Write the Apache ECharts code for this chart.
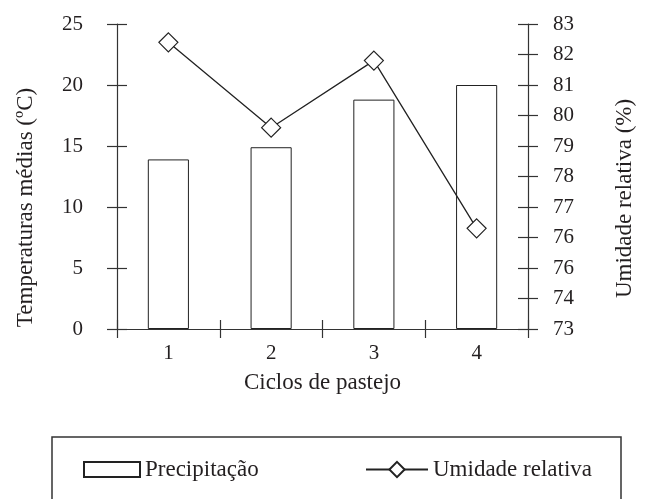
<!DOCTYPE html>
<html>
<head>
<meta charset="utf-8">
<script src="https://cdn.jsdelivr.net/npm/echarts@6/dist/echarts.min.js"></script>
<style>
  html, body { margin: 0; padding: 0; background: #fff; }
  #chart { width: 646px; height: 499px; }
</style>
</head>
<body>
<div id="chart"></div>
<script>
// ciclos de pastejo (eixo x)
const ciclos = ['1', '2', '3', '4']
// barras - eixo esquerdo
const precipitacao = [13.9, 14.9, 18.8, 20.0]
// linha - eixo direito
const umidade = [82.4, 79.6, 81.8, 76.3]
// rótulos do eixo direito (o original repete "76")
const umidadeTicks = ['73', '74', '76', '76', '77', '78', '79', '80', '81', '82', '83']

const fontFamily = '"Liberation Serif", "Times New Roman", serif'
const txt = '#231f20'
const axisColor = '#333'

const chart = echarts.init(document.getElementById('chart'))

const option = {
  animation: false,
  textStyle: { fontFamily: fontFamily, color: txt },
  grid: { left: 117, right: 118, top: 24, bottom: 170, containLabel: false },
  xAxis: [
    {
      type: 'category',
      data: ciclos,
      position: 'bottom',
      name: 'Ciclos de pastejo',
      nameLocation: 'middle',
      nameGap: 42,
      nameTextStyle: { fontSize: 23, color: txt, fontFamily: fontFamily },
      axisLine: { onZero: false, lineStyle: { color: axisColor, width: 1.2 } },
      axisTick: { show: true, inside: false, length: 9, lineStyle: { color: axisColor, width: 1.2 } },
      axisLabel: { fontSize: 21, color: txt, margin: 14, fontFamily: fontFamily },
      splitLine: { show: false }
    },
    {
      type: 'category',
      data: ciclos,
      position: 'bottom',
      axisLine: { show: false, onZero: false },
      axisTick: { show: true, inside: true, length: 9, lineStyle: { color: axisColor, width: 1.2 } },
      axisLabel: { show: false },
      splitLine: { show: false }
    }
  ],
  yAxis: [
    {
      type: 'value',
      position: 'left',
      min: 0, max: 25, interval: 5,
      name: 'Temperaturas médias (ºC)',
      nameLocation: 'middle',
      nameRotate: 90,
      nameGap: 80,
      nameTextStyle: { fontSize: 23, color: txt, fontFamily: fontFamily, padding: [0, 62, 0, 0] },
      axisLine: { show: true, lineStyle: { color: axisColor, width: 1.2 } },
      axisTick: { show: true, inside: false, length: 10, lineStyle: { color: axisColor, width: 1.2 } },
      axisLabel: { fontSize: 21, color: txt, margin: 34, fontFamily: fontFamily },
      splitLine: { show: false }
    },
    {
      type: 'value',
      position: 'left',
      min: 0, max: 25, interval: 5,
      axisLine: { show: false },
      axisTick: { show: true, inside: true, length: 10, lineStyle: { color: axisColor, width: 1.2 } },
      axisLabel: { show: false },
      splitLine: { show: false }
    },
    {
      type: 'value',
      position: 'right',
      min: 73, max: 83, interval: 1,
      name: 'Umidade relativa (%)',
      nameLocation: 'middle',
      nameRotate: 90,
      nameGap: 85,
      nameTextStyle: { fontSize: 23, color: txt, fontFamily: fontFamily, padding: [0, 44, 0, 0] },
      axisLine: { show: true, lineStyle: { color: axisColor, width: 1.2 } },
      axisTick: { show: true, inside: false, length: 10, lineStyle: { color: axisColor, width: 1.2 } },
      axisLabel: {
        fontSize: 21, color: txt, margin: 25, fontFamily: fontFamily,
        formatter: function (v) { return umidadeTicks[Math.round(v - 73)] }
      },
      splitLine: { show: false }
    },
    {
      type: 'value',
      position: 'right',
      min: 73, max: 83, interval: 1,
      axisLine: { show: false },
      axisTick: { show: true, inside: true, length: 10, lineStyle: { color: axisColor, width: 1.2 } },
      axisLabel: { show: false },
      splitLine: { show: false }
    }
  ],
  legend: [
    {
      data: [{ name: 'Precipitação', icon: 'rect' }],
      left: 83, top: 458,
      padding: 0,
      itemWidth: 56, itemHeight: 15,
      selectedMode: false,
      textStyle: { fontSize: 23, color: txt, fontFamily: fontFamily }
    },
    {
      data: ['Umidade relativa'],
      left: 365, top: 458,
      padding: 0,
      itemWidth: 62, itemHeight: 19,
      selectedMode: false,
      textStyle: { fontSize: 23, color: txt, fontFamily: fontFamily }
    }
  ],
  graphic: [
    {
      type: 'rect',
      shape: { x: 52, y: 437, width: 569, height: 80 },
      style: { fill: 'none', stroke: '#333', lineWidth: 1.5 },
      silent: true
    }
  ],
  series: [
    {
      name: 'Precipitação',
      type: 'bar',
      xAxisIndex: 0,
      yAxisIndex: 0,
      data: precipitacao,
      barWidth: '40%',
      itemStyle: { color: '#fff', borderColor: '#222', borderWidth: 1 }
    },
    {
      name: 'Umidade relativa',
      type: 'line',
      xAxisIndex: 0,
      yAxisIndex: 2,
      data: umidade,
      symbol: 'diamond',
      symbolSize: 19,
      lineStyle: { color: '#222', width: 1.3 },
      itemStyle: { color: '#fff', borderColor: '#222', borderWidth: 1.2 }
    }
  ]
}

chart.setOption(option)
</script>
</body>
</html>
